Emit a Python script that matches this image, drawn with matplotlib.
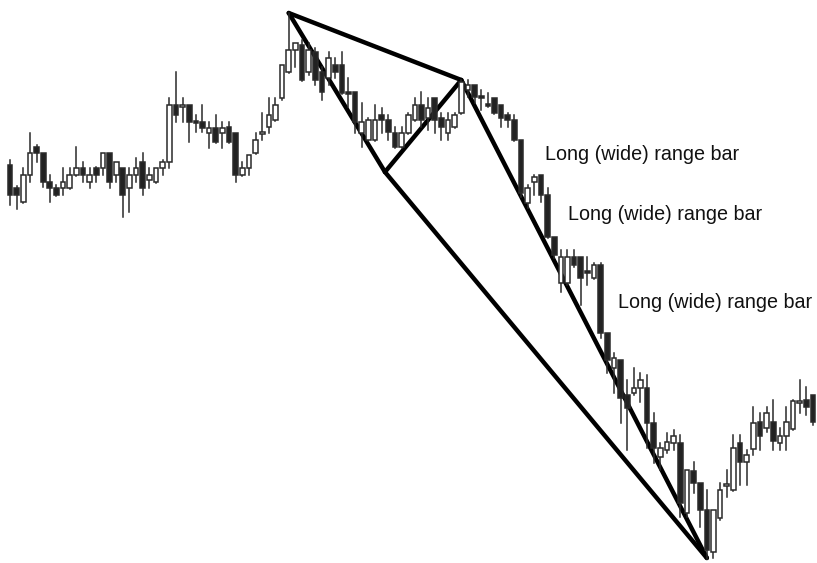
import matplotlib
matplotlib.use("Agg")
import matplotlib.pyplot as plt
from matplotlib.patches import Rectangle

# Candle data (price scale is inverted: smaller number = higher on chart)
wick_top = [160,186,168,133,145,153,175,185,168,168,147,162,168,167,153,153,162,168,168,158,
            153,168,168,160,98,72,98,105,115,105,122,115,122,122,133,162,155,133,113,98,
            98,65,13,43,40,43,48,67,52,58,52,78,92,103,118,105,108,115,127,127,
            113,98,92,98,98,113,113,113,80,80,85,90,93,98,105,113,115,140,185,175,
            175,188,237,250,250,250,257,257,263,263,333,353,360,380,368,373,375,413,443,433,
            430,435,470,462,483,490,510,483,470,435,435,450,407,413,407,400,428,407,400,380,
            387,395]
body_top = [165,188,175,153,147,153,182,188,182,175,168,168,175,168,153,153,162,168,175,168,
            162,175,168,162,105,105,105,105,121,122,128,128,128,127,133,168,155,140,132,115,
            105,65,50,43,45,50,52,72,58,65,65,92,92,122,120,120,115,120,133,133,
            115,105,105,108,98,118,120,115,82,85,85,96,104,98,105,115,120,140,188,177,
            175,195,237,257,257,257,257,271,265,265,333,358,360,395,388,380,388,423,448,442,
            436,443,470,471,483,510,510,490,484,448,443,455,423,422,413,422,436,422,401,401,
            400,395]
body_bot = [195,195,202,175,153,182,188,195,188,188,175,175,182,175,168,182,175,195,188,175,
            188,180,182,168,162,115,107,122,123,128,133,142,133,142,175,175,168,153,134,127,
            120,98,72,50,80,72,80,92,78,72,93,94,122,133,140,140,120,132,147,147,
            133,120,120,118,120,127,133,127,113,90,97,98,106,113,118,120,140,193,203,182,
            195,237,255,283,283,265,278,273,278,333,360,368,398,408,393,388,423,448,457,450,
            443,503,513,483,510,550,552,518,486,490,462,462,449,436,428,441,443,436,429,403,
            407,422]
wick_bot = [205,209,203,182,162,187,202,196,195,189,176,182,188,182,175,188,182,217,212,182,
            195,188,183,175,168,122,122,142,132,132,148,143,148,143,182,176,175,154,140,133,
            121,100,73,67,81,75,85,100,85,78,94,107,133,147,141,141,133,140,148,148,
            134,121,127,130,133,140,140,128,114,97,103,110,107,114,127,127,141,197,208,195,
            202,238,258,292,285,267,305,285,279,338,373,393,423,450,395,402,448,463,470,453,
            450,517,517,493,527,559,558,520,497,491,485,485,455,450,432,450,450,450,430,413,
            415,425]
bullish = "BBWWBBBBWWWBWBWBWBWWBWWWWBWBBBWBWBBWWWWWWWWWBWBBWBBBBWWWBBBWWWBWBBWWWWBBBBBBBBWW" \
          "BBBWWBBBWBBWBBWWBBWWWBWBBBWWWWBWWBWBWWWWBB"

# Pivot points of the drawn trend lines: (candle index, price)
pivot_idx = [42, 56.5, 68, 105]
pivot_price = [13, 172, 80, 558]
line_pairs = [(0, 2), (0, 1), (1, 2), (1, 3), (2, 3)]

label_text = "Long (wide) range bar"
label_idx = [80.6, 84.1, 91.6]
label_price = [155, 215, 302]

fig = plt.figure(figsize=(8.17, 5.63), dpi=100)
ax = fig.add_axes([0, 0, 1, 1])
ax.set_xlim(-1.507, 121.6)
ax.set_ylim(563, 0)
ax.axis("off")

for a, b in line_pairs:
    ax.plot([pivot_idx[a], pivot_idx[b]], [pivot_price[a], pivot_price[b]],
            color="black", lw=3.2, solid_capstyle="round", zorder=1)

w = 0.7
for i in range(len(wick_top)):
    white = bullish[i] == "W"
    ax.plot([i, i], [wick_top[i], body_top[i]], color="#2a2a2a", lw=1.1, zorder=2)
    ax.plot([i, i], [body_bot[i], wick_bot[i]], color="#2a2a2a", lw=1.1, zorder=2)
    h = max(body_bot[i] - body_top[i], 1.2)
    ax.add_patch(Rectangle((i - w / 2, body_top[i]), w, h,
                           facecolor="white" if white else "#222222",
                           edgecolor="#2a2a2a", lw=1.1, zorder=3))

for x, y in zip(label_idx, label_price):
    ax.text(x, y, label_text, fontsize=14.2, family="Liberation Sans",
            color="#111111", va="center", ha="left")

fig.savefig("out.png", dpi=100)
